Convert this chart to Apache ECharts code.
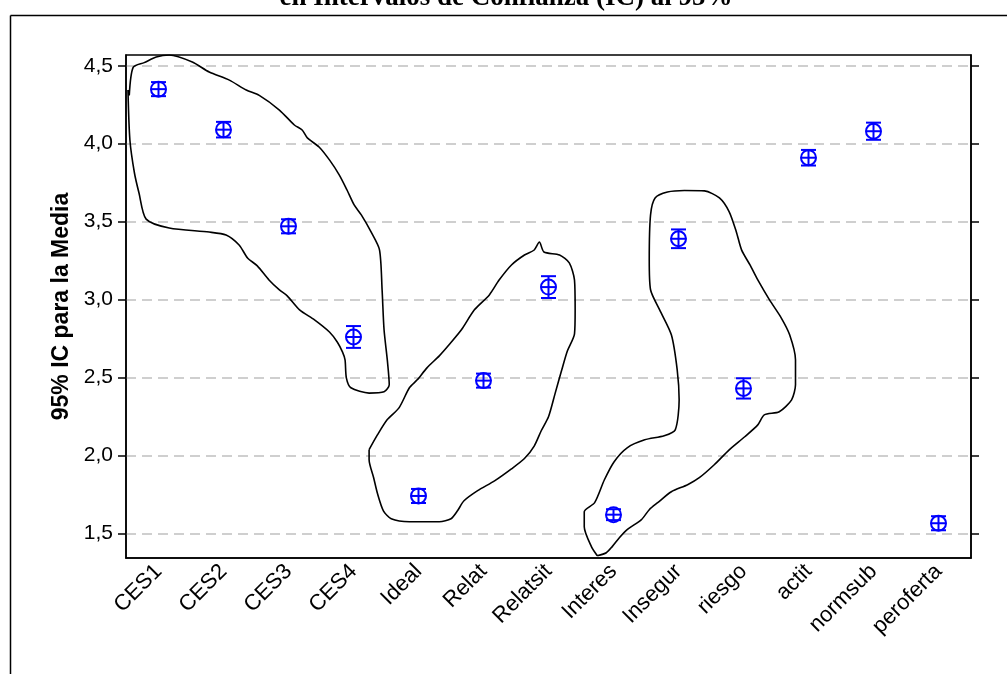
<!DOCTYPE html>
<html><head><meta charset="utf-8">
<script src="https://cdn.jsdelivr.net/npm/echarts@6/dist/echarts.min.js"></script>
<style>html,body{margin:0;padding:0;background:#fff;}#c{width:1007px;height:674px;}</style>
</head><body><div id="c"></div>
<script>
const titleText = 'en Intervalos de Confianza (IC) al 95%';
const yAxisName = '95% IC para la Media';
const categories = ['CES1','CES2','CES3','CES4','Ideal','Relat','Relatsit','Interes','Insegur','riesgo','actit','normsub','peroferta'];
const means = [4.35, 4.09, 3.47, 2.76, 1.74, 2.48, 3.08, 1.62, 3.39, 2.43, 3.91, 4.08, 1.565];
const lower = [4.305, 4.04, 3.425, 2.69, 1.695, 2.435, 3.01, 1.585, 3.33, 2.365, 3.86, 4.025, 1.52];
const upper = [4.395, 4.14, 3.515, 2.83, 1.785, 2.525, 3.15, 1.655, 3.45, 2.495, 3.96, 4.135, 1.61];
const yTicks = [1.5, 2.0, 2.5, 3.0, 3.5, 4.0, 4.5];
const yMin = 1.342, yMax = 4.569;

// hand-drawn outlines, in [category index, value] units
const blobCES = [[-0.45,4.31],[-0.39,4.49],[-0.22,4.52],[-0.035,4.556],[0.165,4.569],[0.52,4.524],[0.78,4.46],[1.09,4.408],[1.35,4.344],[1.55,4.31],[1.86,4.216],[2.09,4.12],[2.21,4.088],[2.29,4.037],[2.47,3.979],[2.63,3.896],[2.78,3.80],[2.90,3.703],[3.01,3.607],[3.12,3.543],[3.27,3.434],[3.40,3.319],[3.44,3.062],[3.47,2.806],[3.52,2.613],[3.55,2.453],[3.47,2.408],[3.24,2.40],[2.96,2.434],[2.89,2.498],[2.87,2.613],[2.83,2.664],[2.75,2.728],[2.63,2.792],[2.40,2.87],[2.17,2.934],[1.98,3.024],[1.86,3.062],[1.70,3.126],[1.52,3.216],[1.37,3.267],[1.24,3.35],[1.04,3.414],[0.78,3.433],[0.165,3.459],[-0.19,3.516],[-0.30,3.684],[-0.37,3.812],[-0.44,4.024],[-0.47,4.344],[-0.45,4.31]];
const blobRelat = [[3.24,2.037],[3.37,2.133],[3.52,2.23],[3.70,2.305],[3.86,2.434],[3.98,2.485],[4.13,2.562],[4.32,2.639],[4.47,2.71],[4.66,2.806],[4.86,2.934],[5.09,3.03],[5.24,3.125],[5.43,3.222],[5.63,3.286],[5.78,3.318],[5.86,3.369],[5.93,3.305],[6.17,3.286],[6.32,3.235],[6.40,3.125],[6.41,2.933],[6.40,2.78],[6.29,2.67],[6.20,2.543],[6.10,2.395],[6.00,2.248],[5.89,2.16],[5.78,2.06],[5.63,1.98],[5.43,1.914],[5.17,1.837],[4.91,1.774],[4.70,1.709],[4.60,1.645],[4.50,1.594],[4.32,1.575],[3.86,1.575],[3.58,1.594],[3.46,1.645],[3.37,1.754],[3.31,1.857],[3.24,1.972],[3.24,2.037]];
const blobInsegur = [[6.75,1.357],[6.66,1.415],[6.55,1.543],[6.55,1.639],[6.71,1.697],[6.86,1.844],[7.01,1.96],[7.21,2.049],[7.48,2.10],[7.78,2.126],[7.95,2.164],[8.01,2.357],[7.98,2.549],[7.89,2.774],[7.71,2.934],[7.57,3.063],[7.55,3.254],[7.57,3.543],[7.64,3.652],[7.83,3.69],[8.09,3.70],[8.40,3.697],[8.63,3.652],[8.78,3.563],[8.89,3.434],[8.97,3.319],[9.10,3.222],[9.22,3.126],[9.40,2.998],[9.58,2.883],[9.71,2.774],[9.80,2.614],[9.80,2.453],[9.74,2.357],[9.55,2.28],[9.32,2.26],[9.22,2.196],[9.02,2.12],[8.78,2.036],[8.55,1.94],[8.32,1.857],[8.14,1.812],[7.89,1.767],[7.68,1.697],[7.55,1.652],[7.43,1.588],[7.21,1.524],[7.09,1.472],[6.98,1.415],[6.89,1.376],[6.75,1.357]];

const chart = echarts.init(document.getElementById('c'), null, {renderer:'canvas'});
const fmt = v => v.toFixed(1).replace('.', ',');
const blob = d => ({type:'line', xAxisIndex:1, yAxisIndex:0, data:d, smooth:0.25, symbol:'none', silent:true,
  lineStyle:{color:'#000', width:1.6}, z:1});
const ebData = categories.map((c,i)=>[i, means[i], lower[i], upper[i]]);

chart.setOption({
  animation:false,
  backgroundColor:'#fff',
  graphic:[
    {type:'line', shape:{x1:10.5,y1:15.5,x2:1007,y2:15.5}, style:{stroke:'#000', lineWidth:1.5}},
    {type:'line', shape:{x1:10.5,y1:15.5,x2:10.5,y2:674}, style:{stroke:'#000', lineWidth:1.5}},
    {type:'text', x:506, y:12, style:{text:titleText, font:'bold 27px "Liberation Serif"', fill:'#000', textAlign:'center', textVerticalAlign:'bottom'}}
  ],
  grid:{left:126, right:36, top:55, bottom:116, show:true, borderColor:'#000', borderWidth:1.5, backgroundColor:'transparent'},
  xAxis:[
    {type:'category', data:categories, boundaryGap:true,
     axisLine:{lineStyle:{color:'#000', width:1.5}},
     axisTick:{alignWithLabel:true, length:8, lineStyle:{color:'#000', width:1.5}},
     axisLabel:{rotate:45, margin:10, color:'#000', fontFamily:'Liberation Sans', fontSize:22, interval:0},
     splitLine:{show:false}},
    {type:'value', min:-0.5, max:12.5, show:false}
  ],
  yAxis:[
    {type:'value', min:yMin, max:yMax, position:'left',
     name:yAxisName, nameLocation:'middle', nameGap:52,
     nameTextStyle:{fontFamily:'Liberation Sans', fontWeight:'bold', fontSize:23, color:'#000'},
     axisLine:{show:true, onZero:false, lineStyle:{color:'#000', width:1.5}},
     axisTick:{show:true, length:8, customValues:yTicks, lineStyle:{color:'#000', width:1.5}},
     axisLabel:{customValues:yTicks, formatter:fmt, color:'#000', fontFamily:'Liberation Sans', fontSize:21, margin:13},
     splitLine:{show:true, lineStyle:{color:'#c0c0c0', type:[10,6], width:1.5}}},
    {type:'value', min:yMin, max:yMax, position:'right',
     axisLine:{show:true, onZero:false, lineStyle:{color:'#000', width:1.5}},
     axisTick:{show:true, length:8, customValues:yTicks, lineStyle:{color:'#000', width:1.5}},
     axisLabel:{show:false, customValues:yTicks},
     splitLine:{show:false}}
  ],
  series:[
    blob(blobCES), blob(blobRelat), blob(blobInsegur),
    {type:'custom', xAxisIndex:0, yAxisIndex:0, data:ebData, encode:{x:0, y:[1,2,3]}, z:5,
     renderItem:function(params, api){
       const x = api.value(0);
       const c = api.coord([x, api.value(1)]);
       const lo = api.coord([x, api.value(2)]);
       const hi = api.coord([x, api.value(3)]);
       const r = 7.5;
       const st = {stroke:'#0000ff', lineWidth:2, fill:'transparent'};
       return {type:'group', children:[
         {type:'line', shape:{x1:c[0], y1:hi[1], x2:c[0], y2:lo[1]}, style:st},
         {type:'line', shape:{x1:c[0]-r, y1:hi[1], x2:c[0]+r, y2:hi[1]}, style:st},
         {type:'line', shape:{x1:c[0]-r, y1:lo[1], x2:c[0]+r, y2:lo[1]}, style:st},
         {type:'circle', shape:{cx:c[0], cy:c[1], r:r}, style:st},
         {type:'line', shape:{x1:c[0]-r, y1:c[1], x2:c[0]+r, y2:c[1]}, style:st}
       ]};
     }}
  ]
});
</script></body></html>
